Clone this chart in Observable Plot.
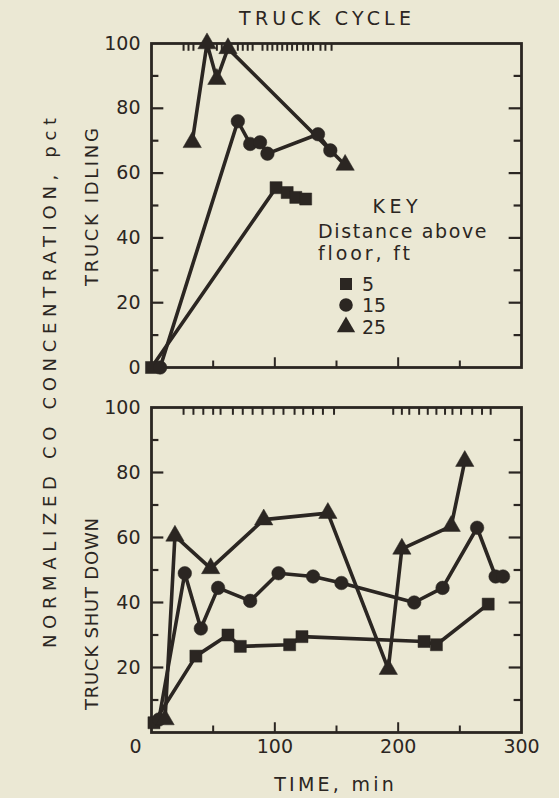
<!DOCTYPE html>
<html><head><meta charset="utf-8">
<script src="https://cdn.jsdelivr.net/npm/d3@7"></script>
<script src="https://cdn.jsdelivr.net/npm/@observablehq/plot@0.6"></script>
<style>
html,body{margin:0;padding:0;background:#ebe8d4;}
#wrap{position:relative;width:559px;height:798px;background:#ebe8d4;font-family:"DejaVu Sans",sans-serif;color:#2b2622;overflow:hidden}
#wrap svg{position:absolute;left:0;overflow:visible}
.t{position:absolute;white-space:nowrap;font-size:19px;line-height:1;}
.c{transform:translate(-50%,-50%);}
.l{transform:translateY(-50%);}
.rot{transform:translate(-50%,-50%) rotate(-90deg);}
.key{position:absolute;white-space:nowrap;font-size:19px;line-height:1;display:flex;align-items:center;transform:translateY(-50%)}
</style></head><body><div id="wrap"></div>
<script>
// ---- data ----
const series = ["5", "15", "25"];
const symbols = ["square", "circle", "triangle"];

// Truck idling panel
const idle5Time = [0, 101, 110, 117, 125];
const idle5Value = [0, 55.5, 54, 52.5, 52];
const idle15Time = [7, 70, 80, 88, 94, 135, 145];
const idle15Value = [0, 76, 69, 69.5, 66, 72, 67];
const idle25Time = [33, 45, 53, 62, 157];
const idle25Value = [69.5, 100, 89, 98.5, 62.5];
const idleCycles = [26, 30, 34, 53, 57, 64, 70, 74, 78, 82, 90, 94, 98, 102, 106, 110, 114, 118, 123, 127, 131, 137, 141, 146];

// Truck shut down panel
const shut5Time = [2, 36, 62, 72, 112, 122, 221, 231, 273];
const shut5Value = [3, 23.5, 30, 26.5, 27, 29.5, 28, 27, 39.5];
const shut15Time = [6, 27, 40, 54, 80, 103, 131, 154, 213, 236, 264, 279, 285];
const shut15Value = [4, 49, 32, 44.5, 40.5, 49, 48, 46, 40, 44.5, 63, 48, 48];
const shut25Time = [11, 19, 48, 91, 143, 192, 203, 243, 254];
const shut25Value = [4, 60.5, 50.5, 65.5, 67.5, 19.5, 56.5, 63.5, 83.5];
const shutCycles = [26, 34, 42, 50, 56, 66, 74, 82, 90, 99, 107, 116, 123, 131, 139, 148, 196, 203, 209, 217, 224, 231, 238, 244, 251, 260, 268, 275];

// axes
const yMajor = [20, 40, 60, 80];
const yMinor = [10, 30, 50, 70, 90];
const xMajor = [100, 200];
const xMinor = [50, 150, 250];
const idleYLabels = [0, 20, 40, 60, 80, 100];
const shutYLabels = [20, 40, 60, 80, 100];
const xLabels = [100, 200, 300];

// ---- build ----
const ink = "#2b2622";
const font = "'DejaVu Sans', sans-serif";
function rows(s, t, v) { return t.map((d, i) => ({series: s, time: d, value: v[i]})); }

function panel({height, marginTop, marginBottom, data, cycles, yLabels, showX}) {
  const marks = [
    Plot.ruleY(yMajor, {y: d => d, x1: 0, x2: 10, stroke: ink, strokeWidth: 2.2}),
    Plot.ruleY(yMinor, {y: d => d, x1: 0, x2: 6, stroke: ink, strokeWidth: 2.2}),
    Plot.ruleY(yMajor, {y: d => d, x1: 300, x2: 290, stroke: ink, strokeWidth: 2.2}),
    Plot.ruleY(yMinor, {y: d => d, x1: 300, x2: 294, stroke: ink, strokeWidth: 2.2}),
    Plot.ruleX(xMajor, {x: d => d, y1: 0, y2: 3, stroke: ink, strokeWidth: 2}),
    Plot.ruleX(xMinor, {x: d => d, y1: 0, y2: 2, stroke: ink, strokeWidth: 2}),
    Plot.ruleX(cycles, {x: d => d, y1: 100, y2: 97.6, stroke: ink, strokeWidth: 2}),
    Plot.frame({stroke: ink, strokeWidth: 2.8}),
    Plot.line(data, {x: "time", y: "value", z: "series", stroke: ink, strokeWidth: 3.6}),
    Plot.dot(data, {x: "time", y: "value", symbol: "series", fill: ink, stroke: ink, strokeWidth: 0.5, r: 6.8}),
    Plot.axisY(yLabels, {tickSize: 0, tickPadding: 11, fontSize: 19, label: null})
  ];
  if (showX) {
    marks.push(Plot.axisX(xLabels, {tickSize: 0, tickPadding: 7, fontSize: 19, label: null}));
    marks.push(Plot.axisX([0], {tickSize: 0, tickPadding: 7, fontSize: 19, label: null, dx: -16}));
  }
  return Plot.plot({
    width: 559, height, marginLeft: 151, marginRight: 38, marginTop, marginBottom,
    style: {background: "transparent", color: ink, fontFamily: font, fontSize: "19px", overflow: "visible"},
    x: {domain: [0, 300], axis: null},
    y: {domain: [0, 100], axis: null},
    symbol: {domain: series, range: symbols},
    marks
  });
}

const idleData = [...rows("5", idle5Time, idle5Value), ...rows("15", idle15Time, idle15Value), ...rows("25", idle25Time, idle25Value)];
const shutData = [...rows("5", shut5Time, shut5Value), ...rows("15", shut15Time, shut15Value), ...rows("25", shut25Time, shut25Value)];

const wrap = document.getElementById("wrap");
const idlePlot = panel({height: 380, marginTop: 43, marginBottom: 13, data: idleData, cycles: idleCycles, yLabels: idleYLabels, showX: false});
idlePlot.style.top = "0px";
const shutPlot = panel({height: 418, marginTop: 27, marginBottom: 66, data: shutData, cycles: shutCycles, yLabels: shutYLabels, showX: true});
shutPlot.style.top = "380px";
wrap.appendChild(idlePlot);
wrap.appendChild(shutPlot);

// text, stretched with letter-spacing to the width it has in the reference
function addText(txt, x, y, cls, width, size) {
  const d = document.createElement("div");
  d.className = "t " + cls;
  d.style.left = x + "px"; d.style.top = y + "px";
  if (size) d.style.fontSize = size + "px";
  d.textContent = txt;
  wrap.appendChild(d);
  if (width) {
    const w = d.offsetWidth;
    const ls = (width - w) / Math.max(1, txt.length - 1);
    d.style.letterSpacing = ls.toFixed(2) + "px";
    if (cls === "c" || cls === "rot") d.style.paddingLeft = ls.toFixed(2) + "px";
  }
  return d;
}
addText("TRUCK CYCLE", 325, 18, "c", 172, 19);
addText("TIME, min", 334, 784, "c", 120, 19);
addText("NORMALIZED CO CONCENTRATION, pct", 50, 383, "rot", 530, 18);
addText("TRUCK IDLING", 92, 207, "rot", 158, 18);
addText("TRUCK SHUT DOWN", 92, 614, "rot", 192, 18);
addText("KEY", 395, 206, "c", 45, 19);
addText("Distance above", 318, 231, "l", 168, 19);
addText("floor, ft", 318, 253, "l", 92, 19);

const keyY = [284, 305, 327];
series.forEach((s, i) => {
  const row = document.createElement("div");
  row.className = "key";
  row.style.left = "336px"; row.style.top = keyY[i] + "px";
  const sym = d3.symbol(d3["symbol" + symbols[i][0].toUpperCase() + symbols[i].slice(1)], Math.PI * 6.8 * 6.8)();
  row.innerHTML = `<svg width="20" height="20" viewBox="-10 -10 20 20" style="position:static;margin-right:6px"><path d="${sym}" fill="${ink}"/></svg><span>${s}</span>`;
  wrap.appendChild(row);
});
</script></body></html>
